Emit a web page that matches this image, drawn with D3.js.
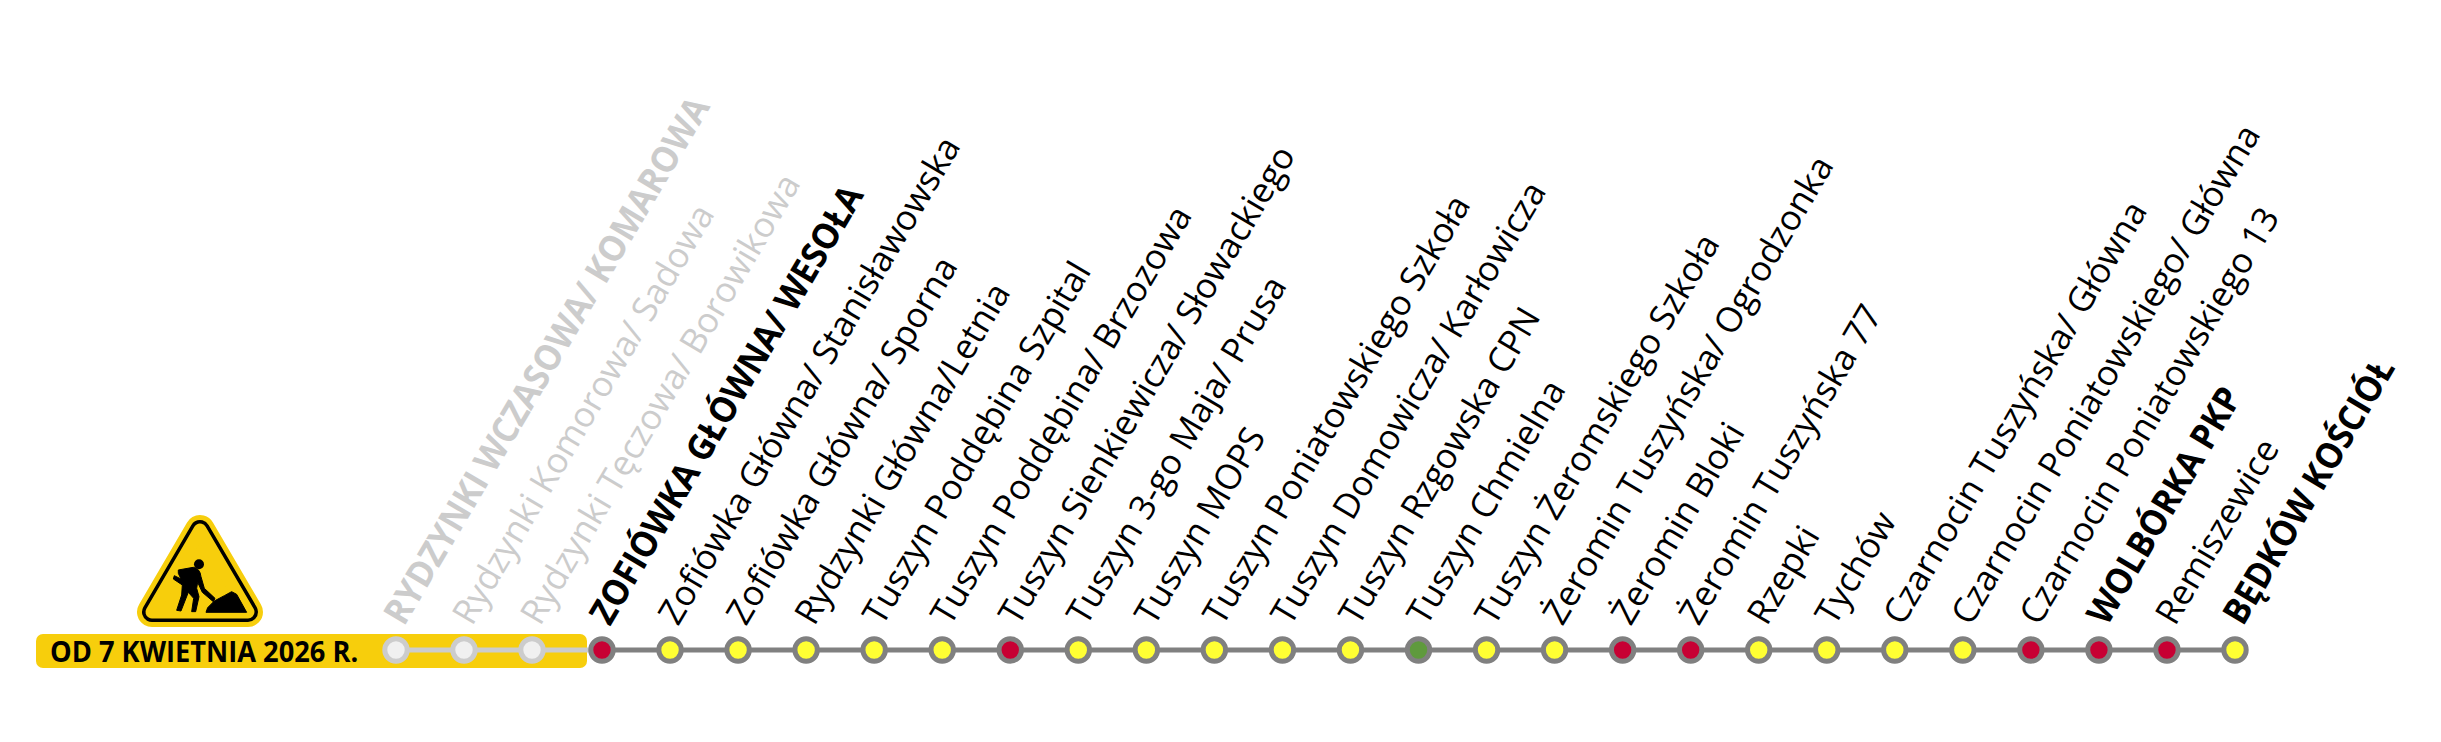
<!DOCTYPE html>
<html>
<head>
<meta charset="utf-8">
<script src="https://cdn.jsdelivr.net/npm/d3@7"></script>
<style>
  html, body { margin: 0; padding: 0; background: #fff; }
  text { font-family: "Open Sans", sans-serif; }
</style>
</head>
<body>
<div id="chart"></div>
<script>
const stops = [
  "RYDZYNKI WCZASOWA/ KOMAROWA", "Rydzynki Komorowa/ Sadowa", "Rydzynki Tęczowa/ Borowikowa",
  "ZOFIÓWKA GŁÓWNA/ WESOŁA", "Zofiówka Główna/ Stanisławowska", "Zofiówka Główna/ Sporna",
  "Rydzynki Główna/Letnia", "Tuszyn Poddębina Szpital", "Tuszyn Poddębina/ Brzozowa",
  "Tuszyn Sienkiewicza/ Słowackiego", "Tuszyn 3-go Maja/ Prusa", "Tuszyn MOPS",
  "Tuszyn Poniatowskiego Szkoła", "Tuszyn Domowicza/ Karłowicza", "Tuszyn Rzgowska CPN",
  "Tuszyn Chmielna", "Tuszyn Żeromskiego Szkoła", "Żeromin Tuszyńska/ Ogrodzonka",
  "Żeromin Bloki", "Żeromin Tuszyńska 77", "Rzepki", "Tychów",
  "Czarnocin Tuszyńska/ Główna", "Czarnocin Poniatowskiego/ Główna", "Czarnocin Poniatowskiego 13",
  "WOLBÓRKA PKP", "Remiszewice", "BĘDKÓW KOŚCIÓŁ"
]
// c = closed, r = red, y = yellow, g = green
const status = ["c","c","c","r","y","y","y","y","y","r","y","y","y","y","y","g","y","y","r","r","y","y","y","y","r","r","r","y"]
const major = ["RYDZYNKI WCZASOWA/ KOMAROWA", "ZOFIÓWKA GŁÓWNA/ WESOŁA", "WOLBÓRKA PKP", "BĘDKÓW KOŚCIÓŁ"]
const noticeText = "OD 7 KWIETNIA 2026 R."

const width = 2441
const height = 742
const lineY = 650
const banner = "#f7ce0c"

// the closed stops sit a little further left than the regular spacing
const pos = d3.scaleLinear().domain([0, 2, 3, 27]).range([396, 532, 602, 2235])
const x = d => pos(stops.indexOf(d))
const fill = d3.scaleOrdinal().domain(["c","r","y","g"]).range(["#f0f0f0","#c70033","#ffff33","#5f9a3d"])
const isClosed = d => status[stops.indexOf(d)] === "c"

const svg = d3.select("#chart").append("svg").attr("width", width).attr("height", height)

// notice banner
svg.append("rect").attr("x", 36).attr("y", 634).attr("width", 551).attr("height", 34).attr("rx", 7).attr("fill", banner)
svg.append("text").attr("transform", "translate(50,662) scale(0.94,1)")
  .attr("font-size", 29).attr("font-weight", 700).attr("fill", "#000").text(noticeText)

// roadworks sign
const sign = svg.append("g").attr("transform", "translate(200,515)")
const triangle = "M0,15L-48,97L48,97Z"
sign.append("path").attr("d", triangle).attr("fill", banner).attr("stroke", banner).attr("stroke-width", 30).attr("stroke-linejoin", "round")
sign.append("path").attr("d", triangle).attr("fill", "#000").attr("stroke", "#000").attr("stroke-width", 20).attr("stroke-linejoin", "round")
sign.append("path").attr("d", triangle).attr("fill", banner).attr("stroke", banner).attr("stroke-width", 13).attr("stroke-linejoin", "round")
const worker = svg.append("g").attr("transform", "translate(125,505) scale(0.3333)")
worker.append("circle").attr("cx", 222).attr("cy", 178).attr("r", 15).attr("fill", "#000")
worker.append("path").attr("fill", "#000").attr("stroke", "#000").attr("stroke-width", 3).attr("stroke-linejoin", "round")
  .attr("d", "M160,195L205,187Q225,190 228,215L238,250L270,280L265,290L232,262L218,232L215,250L222,275L212,320L200,320L206,280L190,262L168,318L155,316L170,270L172,240L145,222L148,212L168,222L160,205Z")
worker.append("path").attr("fill", "#000").attr("stroke", "#000").attr("stroke-width", 3).attr("stroke-linejoin", "round")
  .attr("d", "M243,322L248,308L268,288L298,272L320,260L335,268L365,322Z")

// line
const lineX = d3.line().x(d => x(d)).y(lineY)
svg.append("path").attr("d", lineX(stops.slice(0, 4))).attr("fill", "none").attr("stroke", "#cccccc").attr("stroke-width", 5)
svg.append("path").attr("d", lineX(stops.slice(3))).attr("fill", "none").attr("stroke", "#808080").attr("stroke-width", 5)

// stops
svg.append("g").selectAll("circle").data(stops).enter().append("circle")
  .attr("cx", d => x(d))
  .attr("cy", lineY)
  .attr("r", 11.2)
  .attr("fill", (d, i) => fill(status[i]))
  .attr("stroke", d => isClosed(d) ? "#cccccc" : "#808080")
  .attr("stroke-width", 5)

// labels
svg.append("g").selectAll("text").data(stops).enter().append("text")
  .attr("transform", d => {
    const sx = major.includes(d) ? 0.93 : 1
    return `translate(${x(d) + 8},627) rotate(-59.5) scale(${sx},1)`
  })
  .attr("font-size", d => major.includes(d) ? 36 : 35)
  .attr("font-weight", d => major.includes(d) ? 700 : 400)
  .attr("fill", d => isClosed(d) ? "#cccccc" : "#000")
  .text(d => d)
</script>
</body>
</html>
